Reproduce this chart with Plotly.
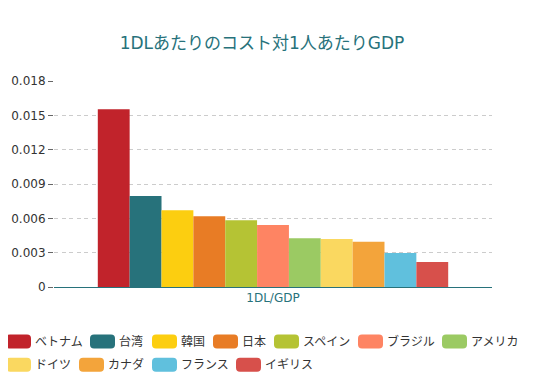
import plotly.graph_objects as go

countries = ["ベトナム", "台湾", "韓国", "日本", "スペイン", "ブラジル", "アメリカ",
             "ドイツ", "カナダ", "フランス", "イギリス"]
values = [0.01553, 0.00795, 0.0067, 0.00618, 0.00583, 0.00542, 0.00426,
          0.0042, 0.00396, 0.00297, 0.00218]
colors = ["#C1232B", "#27727B", "#FCCE10", "#E87C25", "#B5C334", "#FE8463",
          "#9BCA63", "#FAD860", "#F3A43B", "#60C0DD", "#D7504B"]
category = "1DL/GDP"
tick_vals = [0, 0.003, 0.006, 0.009, 0.012, 0.015, 0.018]
tick_text = ["0", "0.003", "0.006", "0.009", "0.012", "0.015", "0.018"]

# legend layout (page pixels): swatch left edge and row centre for each entry
leg_left = [6, 90, 152, 213, 274, 358, 442, 6, 79, 152, 236]
leg_row = [341.5] * 7 + [364.7] * 4

font = "DejaVu Sans, Noto Sans CJK JP, sans-serif"

OFF = 8  # page body margin
W, H = 547, 387
PL, PR, PT, PB = 54, 492, 81, 287  # plot area in page pixels
pw, ph = PR - PL, PB - PT
L, T = PL - OFF, PT - OFF
R, B = W - L - pw, H - T - ph


def px(x):
    return (x - PL) / pw


def py(y):
    return (PB - y) / ph


fig = go.Figure()
shapes = []
legends = {}
for i, (name, v, c) in enumerate(zip(countries, values, colors)):
    key = "legend" if i == 0 else f"legend{i + 1}"
    fig.add_trace(go.Bar(name=name, x=[category], y=[v], marker_color=c,
                         marker_line_width=0, legend=key))
    sl, cy = leg_left[i], leg_row[i]
    sw, sh, r = 25, 14, 4
    x0, x1, y0, y1 = sl, sl + sw, cy - sh / 2, cy + sh / 2
    path = (f"M{px(x0 + r)},{py(y0)} L{px(x1 - r)},{py(y0)} "
            f"Q{px(x1)},{py(y0)} {px(x1)},{py(y0 + r)} "
            f"L{px(x1)},{py(y1 - r)} Q{px(x1)},{py(y1)} {px(x1 - r)},{py(y1)} "
            f"L{px(x0 + r)},{py(y1)} Q{px(x0)},{py(y1)} {px(x0)},{py(y1 - r)} "
            f"L{px(x0)},{py(y0 + r)} Q{px(x0)},{py(y0)} {px(x0 + r)},{py(y0)} Z")
    shapes.append(dict(type="path", xref="paper", yref="paper", path=path,
                       fillcolor=c, line=dict(width=0), layer="above"))
    text_start = sl + 29
    legends[key] = dict(orientation="h", xanchor="left", yanchor="middle",
                        x=px(text_start - 40), y=py(cy),
                        font=dict(size=12, color="#333", family=font),
                        bgcolor="rgba(0,0,0,0)", borderwidth=0)

fig.update_layout(
    width=W, height=H,
    margin=dict(l=L, r=R, t=T, b=B, autoexpand=False),
    paper_bgcolor="white", plot_bgcolor="white",
    font=dict(family=font, size=12, color="#333"),
    title=dict(text="1DLあたりのコスト対1人あたりGDP", x=(262 - OFF) / W,
               xanchor="center", y=1 - (43 - OFF) / H, yanchor="middle",
               font=dict(size=17, color="#27727B", family=font)),
    barmode="group", bargap=0.2, bargroupgap=0,
    showlegend=True,
    shapes=shapes,
    **legends,
)
fig.update_xaxes(showgrid=False, showline=True, linecolor="#27727B", linewidth=1,
                 ticks="", tickfont=dict(color="#27727B", size=12), automargin=False)
fig.update_yaxes(range=[0, 0.018], tickvals=tick_vals, ticktext=tick_text,
                 showgrid=True, gridcolor="#ccc", griddash="4px,3.5px", gridwidth=1,
                 zeroline=False, showline=False, ticks="outside", ticklen=5,
                 tickcolor="#666", tickfont=dict(color="#333", size=12),
                 automargin=False)

fig.write_html("out.html")
